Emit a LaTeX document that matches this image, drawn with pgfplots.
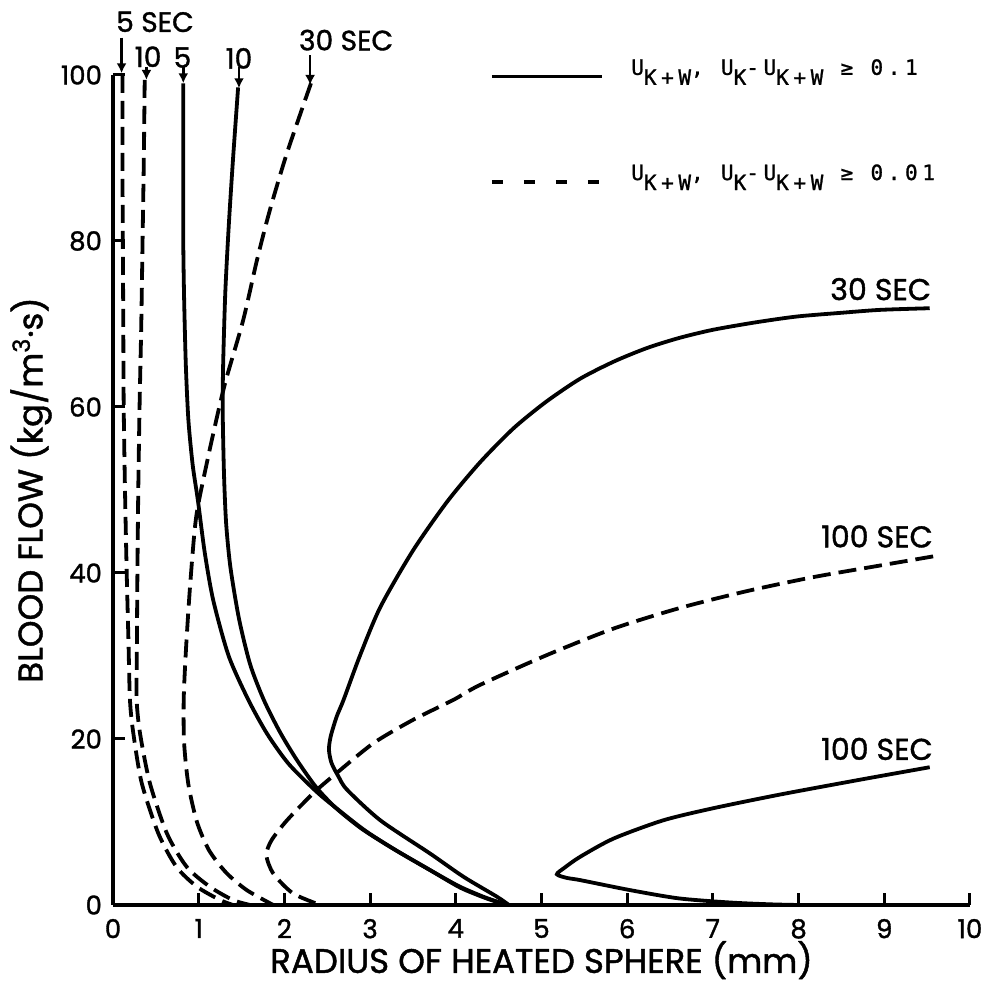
\documentclass[border=0pt]{standalone}
\usepackage{fontspec}
\setmainfont{Poppins}[FakeBold=1.3]
\newfontfamily\legfont{DejaVu Sans Mono}[LetterSpace=22, FakeBold=1.2]
\usepackage{pgfplots}
\pgfplotsset{compat=1.18}
\usetikzlibrary{arrows.meta}
\newcommand\lsub[1]{\raisebox{-5pt}{#1}}
\pgfplotsset{
  solidc/.style={black, line width=1.9pt, smooth, tension=0.45, no marks, forget plot},
  dashc/.style={black, line width=1.9pt, smooth, tension=0.45, no marks, forget plot, dash pattern=on 9pt off 4pt},
}
\begin{document}
\begin{tikzpicture}
\begin{axis}[
  scale only axis,
  width=428.5pt, height=415pt,
  xmin=0, xmax=10, ymin=0, ymax=100,
  axis x line=bottom, axis y line=left,
  axis line style={-, line width=1.9pt},
  xtick={0,1,...,10}, ytick={0,20,...,100},
  tick align=inside, major tick length=6pt,
  every tick/.style={black, line width=1.5pt},
  /pgf/number format/assume math mode=true,
  tick label style={font=\fontsize{13}{15}\selectfont},
  xticklabel style={yshift=-3.5pt},
  yticklabel style={xshift=-2pt},
  xlabel={RADIUS OF HEATED SPHERE (mm)},
  ylabel={BLOOD FLOW (kg/m\textsuperscript{3}·s)},
  label style={font=\fontsize{17}{20}\selectfont},
  xlabel style={at={(axis description cs:0.5,-0.0665)}, anchor=center},
  ylabel style={at={(axis description cs:-0.0957,0.5)}, anchor=center},
  clip=false,
  legend cell align=left,
  legend image code/.code={\draw[#1] (0pt,-4pt) -- (55pt,-4pt);},
  legend style={draw=none, fill=none, inner sep=0pt, outer sep=0pt,
    at={(axis cs:4.4,101.9)}, anchor=north west,
    font=\legfont\fontsize{10.5}{12}\selectfont,
    nodes={inner sep=0pt}, row sep=43pt,
    /tikz/every odd column/.append style={column sep=13.7pt}},
]
\addlegendimage{black, line width=1.9pt}
\addlegendentry{U\lsub{K+W}, U\lsub{K}-U\lsub{K+W} ≥ 0.1}
\addlegendimage{black, line width=1.9pt, dash pattern=on 5.5pt off 10.5pt}
\addlegendentry{U\lsub{K+W}, U\lsub{K}-U\lsub{K+W} ≥ 0.01}

% dashed 5 s
\addplot[dashc] coordinates {(0.11,100) (0.11,90) (0.115,80) (0.12,70) (0.125,60) (0.14,50) (0.16,40) (0.18,32) (0.198,24.7) (0.237,20.7) (0.335,14.7) (0.53,8.6) (0.74,4.6) (0.98,2.2) (1.25,0.6) (1.4,0)};
% dashed 10 s
\addplot[dashc] coordinates {(0.37,99.4) (0.36,90) (0.345,80) (0.33,70) (0.31,60) (0.295,50) (0.285,40) (0.278,30) (0.276,24.7) (0.315,20.7) (0.43,14.7) (0.63,8.6) (0.86,4.6) (1.13,2.2) (1.4,0.6) (1.6,0)};
% dashed 30 s
\addplot[dashc] coordinates {(2.31,99) (2.03,90.6) (1.83,83.7) (1.68,77.7) (1.52,70.5) (1.33,63.7) (1.24,60) (1.1,53.5) (0.97,46.7) (0.9,38.5) (0.85,30.5) (0.825,24.7) (0.83,19.5) (0.88,14.5) (0.98,10) (1.12,6.6) (1.32,3.9) (1.56,1.8) (1.87,0)};
% dashed 100 s
\addplot[dashc] coordinates {(9.57,42.0) (8.95,40.9) (8.17,39.5) (7.39,37.8) (6.62,35.8) (5.84,33.3) (5.06,30.1) (4.28,26.5) (3.97,24.7) (3.5,22.3) (3.04,19.5) (2.61,15.9) (2.34,13.5) (2.03,10.2) (1.85,7.8) (1.79,6.0) (1.87,3.8) (2.1,1.4) (2.42,0)};
% solid 5 s
\addplot[solidc] coordinates {(0.82,99) (0.82,90) (0.82,80) (0.83,73) (0.85,65) (0.88,58.4) (0.93,53) (0.99,48.8) (1.07,42.5) (1.17,36.7) (1.35,30) (1.58,24.7) (1.8,20.6) (2.05,17.0) (2.38,13.6) (2.65,11.3) (2.95,8.9) (3.3,6.6) (3.7,4.2) (4.05,2.1) (4.33,0.9) (4.5,0.3) (4.58,0)};
% solid 10 s
\addplot[solidc] coordinates {(1.46,98.5) (1.4,89.8) (1.35,81.7) (1.31,73.7) (1.285,65) (1.28,59.6) (1.295,52) (1.32,46) (1.37,40.7) (1.47,34.5) (1.6,29) (1.76,24.7) (1.95,20.8) (2.15,17.4) (2.37,14.2) (2.6,11.7) (2.9,9.2) (3.25,6.9) (3.65,4.5) (4.03,2.3) (4.32,1.0) (4.5,0.35) (4.6,0)};
% solid 30 s
\addplot[solidc] coordinates {(4.62,0) (4.48,1) (4.09,3.4) (3.7,6.2) (3.12,10.2) (2.73,13.9) (2.63,15.5) (2.55,17.1) (2.52,18.7) (2.54,20.3) (2.61,22.7) (2.69,24.7) (2.88,30) (3.12,35.9) (3.5,42.7) (3.9,48.6) (4.28,53.3) (4.67,57.4) (5.05,60.6) (5.45,63.4) (5.85,65.5) (6.23,67.1) (6.6,68.3) (7.0,69.3) (7.5,70.2) (7.98,70.9) (8.5,71.35) (8.95,71.7) (9.53,71.9)};
% solid 100 s
\addplot[solidc] coordinates {(9.53,16.6) (8.72,15.1) (7.78,13.3) (7.0,11.65) (6.42,10.2) (5.84,8.0) (5.45,5.8) (5.27,4.5) (5.18,3.7) (5.3,3.25) (5.45,3.0) (6.03,1.8) (6.6,0.8) (7.2,0.3) (7.67,0.08) (8.0,0)};

% curve labels
\begin{scope}[every node/.style={font=\fontsize{15}{17}\selectfont, inner sep=0pt}]
\node[anchor=east] at (axis cs:9.55,74.2) {30 SEC};
\node[anchor=east] at (axis cs:9.57,44.4) {100 SEC};
\node[anchor=east] at (axis cs:9.57,18.8) {100 SEC};
\end{scope}
\begin{scope}[every node/.style={font=\fontsize{14}{16}\selectfont, inner sep=0pt}]
\node at (axis cs:0.49,106.4) {5 SEC};
\node at (axis cs:0.41,102.2) {10};
\node at (axis cs:0.81,102.1) {5};
\node at (axis cs:1.47,102.0) {10};
\node at (axis cs:2.72,104.2) {30 SEC};
\end{scope}
\begin{scope}[line width=1.3pt, -{Latex[length=5pt,width=5pt]}]
\draw (axis cs:0.1,104.5) -- (axis cs:0.1,100.2);
\draw (axis cs:0.39,101.0) -- (axis cs:0.39,99.4);
\draw (axis cs:0.82,101.0) -- (axis cs:0.82,99.0);
\draw (axis cs:1.47,101.0) -- (axis cs:1.47,98.4);
\draw (axis cs:2.3,102.4) -- (axis cs:2.3,98.8);
\end{scope}
\coordinate (LL) at (axis cs:0,0);
\coordinate (UR) at (axis cs:10,100);
\end{axis}
\pgfresetboundingbox
\path[use as bounding box] ([shift={(-56.5pt,-40pt)}]LL) rectangle ([shift={(8.5pt,37.5pt)}]UR);
\end{tikzpicture}
\end{document}
